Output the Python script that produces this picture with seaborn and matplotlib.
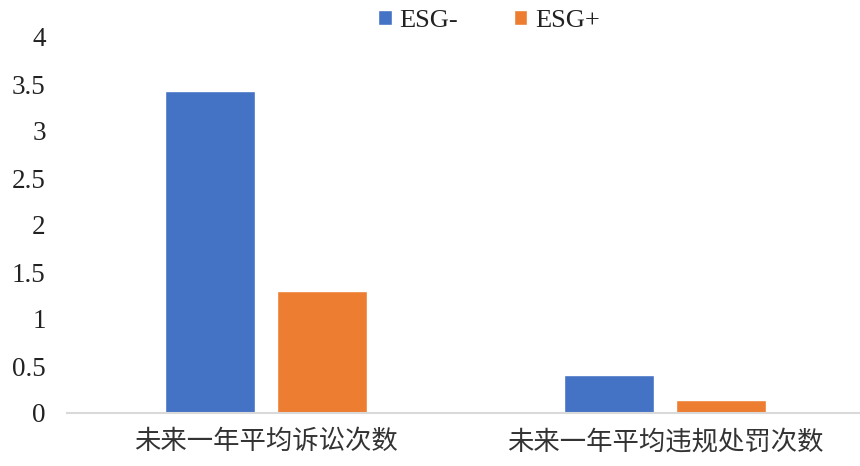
import matplotlib
matplotlib.use("Agg")
import matplotlib.pyplot as plt
import seaborn as sns
import pandas as pd

# Average counts in the following year, by ESG group
categories = ["未来一年平均诉讼次数", "未来一年平均违规处罚次数"]
groups = ["ESG-", "ESG+"]
esg_minus = [3.43, 0.40]
esg_plus = [1.30, 0.14]
y_ticks = [0, 0.5, 1, 1.5, 2, 2.5, 3, 3.5, 4]
y_tick_labels = ["0", "0.5", "1", "1.5", "2", "2.5", "3", "3.5", "4"]
colors = ["#4472C4", "#ED7D31"]

df = pd.DataFrame({
    "category": categories * 2,
    "group": [groups[0]] * len(categories) + [groups[1]] * len(categories),
    "value": esg_minus + esg_plus,
})

sns.set_theme(style="white")
plt.rcParams["font.family"] = ["Liberation Serif", "Noto Sans CJK SC", "DejaVu Sans"]

fig = plt.figure(figsize=(8.6, 4.66), dpi=100)
ax = fig.add_axes([66.5 / 860, 53 / 466, 798 / 860, 376 / 466])

sns.barplot(data=df, x="category", y="value", hue="group", order=categories,
            hue_order=groups, palette=colors, width=0.56, gap=0.2,
            saturation=1, errorbar=None, ax=ax)

ax.set_ylim(0, 4)
ax.set_xlim(-0.5, 1.5)
ax.set_yticks(y_ticks)
ax.set_yticklabels(y_tick_labels, fontsize=19.5, color="#222222")
ax.set_xticks(range(len(categories)))
ax.set_xticklabels(categories, fontsize=19, color="#333333",
                   family=["Noto Sans CJK SC"], fontweight="light")
ax.set_xlabel("")
ax.set_ylabel("")
ax.tick_params(axis="y", length=0, pad=15)
ax.tick_params(axis="x", length=0, pad=11)

for side in ["top", "right", "left"]:
    ax.spines[side].set_visible(False)
ax.spines["bottom"].set_color("#D9D9D9")
ax.spines["bottom"].set_linewidth(1.5)
ax.grid(False)

sns.move_legend(ax, "center", bbox_to_anchor=(489 / 860, 1 - 21 / 466),
                bbox_transform=fig.transFigure, ncol=2, frameon=False,
                title=None, fontsize=19, handlelength=0.5, handleheight=0.5,
                handletextpad=0.3, columnspacing=2.1)
leg = ax.get_legend()
for t in leg.get_texts():
    t.set_color("#222222")

fig.savefig("out.png", dpi=100)
